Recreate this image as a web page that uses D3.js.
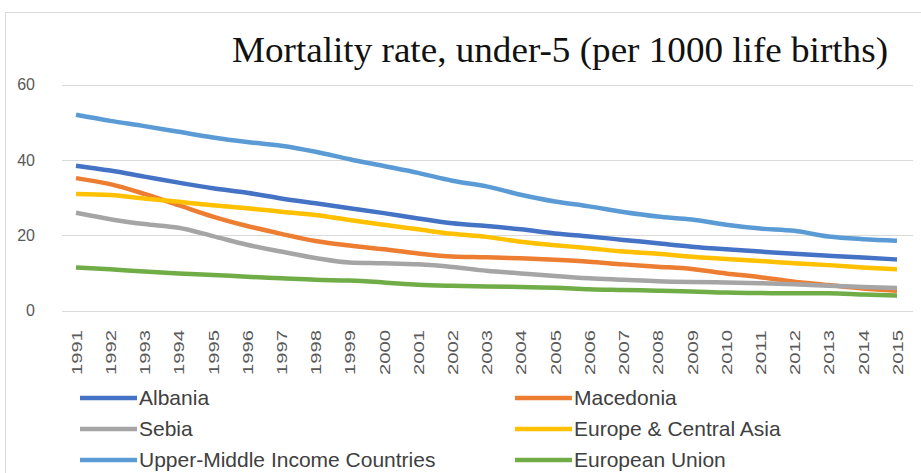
<!DOCTYPE html>
<html>
<head>
<meta charset="utf-8">
<script src="https://cdn.jsdelivr.net/npm/d3@7"></script>
<style>
  body { margin: 0; background: #fff; }
  svg { display: block; }
</style>
</head>
<body>
<div id="chart"></div>
<script>
const years = d3.range(1991, 2016);

const albania = [38.5, 37.2, 35.6, 34, 32.5, 31.3, 29.8, 28.5, 27.2, 25.9, 24.5, 23.2, 22.5, 21.6, 20.5, 19.7, 18.8, 17.9, 17, 16.3, 15.7, 15.1, 14.6, 14.1, 13.6];
const macedonia = [35.2, 33.6, 31, 28, 25, 22.5, 20.4, 18.5, 17.3, 16.3, 15.2, 14.4, 14.2, 13.9, 13.5, 13, 12.3, 11.7, 11.1, 9.9, 8.9, 7.7, 6.8, 5.9, 5.3];
const serbia = [26, 24.3, 23, 22, 19.8, 17.5, 15.7, 14, 12.8, 12.6, 12.3, 11.6, 10.6, 9.9, 9.2, 8.6, 8.2, 7.8, 7.6, 7.5, 7.3, 7, 6.6, 6.3, 6];
const europeCentralAsia = [31, 30.7, 29.8, 28.9, 28, 27.2, 26.3, 25.4, 24.1, 22.8, 21.6, 20.4, 19.6, 18.3, 17.4, 16.6, 15.7, 15.1, 14.3, 13.7, 13.2, 12.6, 12.1, 11.5, 11];
const upperMiddle = [52, 50.4, 49, 47.5, 46, 44.8, 43.8, 42.2, 40.2, 38.4, 36.6, 34.5, 33, 30.8, 29, 27.7, 26.2, 25, 24.2, 22.8, 21.8, 21.2, 19.7, 19, 18.6];
const europeanUnion = [11.5, 11, 10.4, 9.9, 9.5, 9, 8.6, 8.2, 8, 7.5, 6.9, 6.6, 6.4, 6.3, 6.1, 5.7, 5.5, 5.3, 5.1, 4.8, 4.7, 4.6, 4.6, 4.3, 4.0];

const yTicks = [0, 20, 40, 60];

const series = [
    { name: 'Albania', values: albania, color: '#4472c4' },
    { name: 'Macedonia', values: macedonia, color: '#ed7d31' },
    { name: 'Sebia', values: serbia, color: '#a5a5a5' },
    { name: 'Europe & Central Asia', values: europeCentralAsia, color: '#ffc000' },
    { name: 'Upper-Middle Income Countries', values: upperMiddle, color: '#5b9bd5' },
    { name: 'European Union', values: europeanUnion, color: '#70ad47' }
];

const width = 921;
const height = 473;

const svg = d3.select('#chart')
    .append('svg')
    .attr('width', width)
    .attr('height', height);

// chart frame
svg.append('rect')
    .attr('x', 5.5)
    .attr('y', 12.5)
    .attr('width', 940)
    .attr('height', 480)
    .attr('fill', '#fff')
    .attr('stroke', '#d9d9d9');

svg.append('text')
    .attr('x', 232)
    .attr('y', 62)
    .attr('font-family', '"Liberation Serif", "Times New Roman", serif')
    .attr('font-size', 35)
    .attr('fill', '#111')
    .attr('textLength', 656)
    .attr('lengthAdjust', 'spacingAndGlyphs')
    .text('Mortality rate, under-5 (per 1000 life births)');

const xScale = d3.scalePoint()
    .domain(years)
    .range([76, 897]);

const yScale = d3.scaleLinear()
    .domain([0, 60])
    .range([310.7, 84.7]);

const labelFont = '"Liberation Sans Narrow", "Liberation Sans", Arial, sans-serif';

// gridlines
svg.append('g')
    .selectAll('line')
    .data(yTicks)
    .enter()
    .append('line')
    .attr('x1', 62)
    .attr('x2', 913)
    .attr('y1', d => Math.round(yScale(d)) + 0.5)
    .attr('y2', d => Math.round(yScale(d)) + 0.5)
    .attr('stroke', '#d9d9d9')
    .attr('stroke-width', 1.2);

const yAxis = d3.axisLeft(yScale)
    .tickValues(yTicks)
    .tickSize(0)
    .tickPadding(0);

svg.append('g')
    .attr('transform', 'translate(35, 0)')
    .call(yAxis)
    .call(g => g.select('.domain').remove())
    .call(g => g.selectAll('text')
        .attr('font-family', labelFont)
        .attr('font-size', 16)
        .attr('fill', '#595959'));

const xAxis = d3.axisBottom(xScale)
    .tickSize(0)
    .tickPadding(0);

svg.append('g')
    .attr('transform', 'translate(0, 330)')
    .call(xAxis)
    .call(g => g.select('.domain').remove())
    .call(g => g.selectAll('text')
        .attr('font-family', labelFont)
        .attr('font-size', 15)
        .attr('fill', '#595959')
        .attr('text-anchor', 'end')
        .attr('x', 0)
        .attr('y', 0)
        .attr('dy', '0.35em')
        .attr('transform', 'rotate(-90)')
        .attr('textLength', 45)
        .attr('lengthAdjust', 'spacingAndGlyphs'));

const line = d3.line()
    .x((d, i) => xScale(years[i]))
    .y(d => yScale(d))
    .curve(d3.curveMonotoneX);

svg.append('g')
    .selectAll('path')
    .data(series)
    .enter()
    .append('path')
    .attr('d', d => line(d.values))
    .attr('fill', 'none')
    .attr('stroke', d => d.color)
    .attr('stroke-width', 4.5)
    .attr('stroke-linejoin', 'round');

// legend, two columns
const legend = svg.append('g');
const legendItems = legend.selectAll('g')
    .data(series)
    .enter()
    .append('g')
    .attr('transform', (d, i) => `translate(${i % 2 === 0 ? 80 : 515}, ${398 + Math.floor(i / 2) * 31})`);

legendItems.append('line')
    .attr('x1', 0)
    .attr('x2', 57)
    .attr('stroke', d => d.color)
    .attr('stroke-width', 4.5);

legendItems.append('text')
    .attr('x', 59)
    .attr('dy', '0.35em')
    .attr('font-family', labelFont)
    .attr('font-size', 21)
    .attr('fill', '#404040')
    .text(d => d.name);
</script>
</body>
</html>
